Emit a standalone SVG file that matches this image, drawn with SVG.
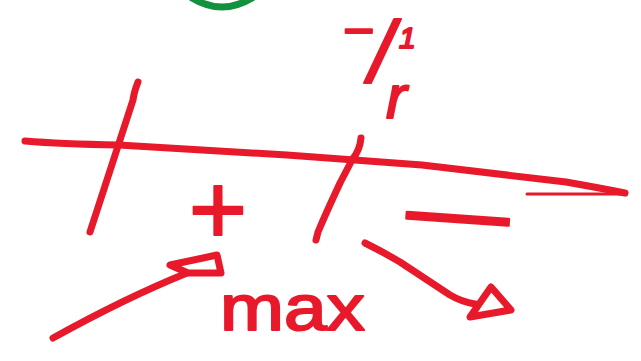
<svg xmlns="http://www.w3.org/2000/svg" width="641" height="361" viewBox="0 0 641 361">
  <style>
    .stroke { fill: none; stroke: #e8192b; stroke-width: 7; stroke-linecap: round; stroke-linejoin: round; }
    .thin { fill: none; stroke: #e8192b; stroke-width: 3; stroke-linecap: round; }
    .green { fill: none; stroke: #12923e; stroke-width: 7; stroke-linecap: round; }
    .ink { fill: #e8192b; stroke: #e8192b; stroke-width: 2; stroke-linejoin: round; font-family: "Liberation Sans", Arial, sans-serif; }
  </style>
  <rect width="641" height="361" fill="#ffffff"/>

  <g id="green-arc">
    <path class="green" d="M192,-2 Q222,16 252,-2"/>
  </g>

  <g id="axis-marks">
    <path class="stroke" d="M138,82 Q134,92 133,100 L90,232"/>
    <path class="stroke" d="M361,138 Q360,150 352,160 L340,183 Q326,213 318,232 L316,240"/>
  </g>

  <g id="connectors">
    <path class="stroke" d="M25,141 Q60,144 119,145 L287,155 Q352,160 422,165 L566,182 Q600,188 625,193"/>
    <path class="thin" d="M527,194 L625,194"/>
    <path class="stroke" d="M53,338 C100,312 150,288 187,273"/>
    <path class="stroke" d="M170,265 L217,255 L221,273 L188,273 Z"/>
    <path class="stroke" d="M365,243 Q383,252 400,262 L450,295 Q462,302 475,304"/>
    <path class="stroke" d="M491,287 L511,310 L470,317 Z"/>
    <path fill="#e8192b" d="M491,287 L478,312 L470,317 Z"/>
  </g>

  <g id="label-curvature">
    <text class="ink" font-size="54"><tspan x="343" y="49">−</tspan><tspan font-size="30" font-style="italic" x="399" y="48">1</tspan><tspan font-size="88" font-style="italic" x="369" y="82">/</tspan><tspan font-size="62" font-style="italic" x="386" y="118">r</tspan></text>
  </g>

  <g id="label-plus">
    <text class="ink" font-size="100" text-anchor="middle" x="218" y="244">+</text>
  </g>

  <g id="label-minus">
    <text class="ink" font-size="100" x="397" y="252" textLength="121" lengthAdjust="spacingAndGlyphs" transform="rotate(4 457 220)">−</text>
  </g>

  <g id="label-max">
    <text class="ink" font-size="64" x="220" y="330" textLength="145" lengthAdjust="spacingAndGlyphs">max</text>
  </g>
</svg>
